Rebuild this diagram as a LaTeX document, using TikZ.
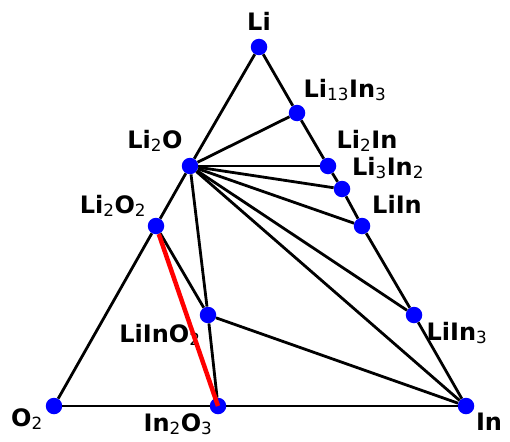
\documentclass[tikz,border=0pt]{standalone}
\usepackage{fontspec}
\setmainfont{DejaVu Sans}
\usetikzlibrary{positioning}
\newcommand{\ix}[1]{\textsubscript{\mdseries #1}}

\begin{document}
\begin{tikzpicture}[x=1pt, y=-1pt, font=\fontsize{24}{28}\selectfont\bfseries,
		phase/.style={circle, fill=blue, inner sep=0pt, minimum size=16.5pt},
		tie/.style={line width=2.8pt, black},
		lbl/.style={inner sep=0pt, anchor=base}]
				\useasboundingbox (0,0) rectangle (510,441);
				% phases
				\node[phase] (li) at (259, 47) {};
				\node[phase] (li13in3) at (297, 113) {};
				\node[phase] (li2o) at (190, 166) {};
				\node[phase] (li2in) at (328, 166) {};
				\node[phase] (li3in2) at (342, 189) {};
				\node[phase] (liin) at (362, 226) {};
				\node[phase] (li2o2) at (156, 226) {};
				\node[phase] (liino2) at (208, 315) {};
				\node[phase] (liin3) at (414, 315) {};
				\node[phase] (o2) at (54, 406) {};
				\node[phase] (in2o3) at (218, 406) {};
				\node[phase] (in) at (466, 406) {};
				
				% labels
				\node[lbl] (tli) at (259, 31) {Li};
				\node[lbl] (tli13in3) at (345, 97) {Li\ix{13}In\ix{3}};
				\node[lbl] (tli2o) at (155, 148) {Li\ix{2}O};
				\node[lbl] (tli2in) at (367, 148) {Li\ix{2}In};
				\node[lbl] (tli3in2) at (388, 175) {Li\ix{3}In\ix{2}};
				\node[lbl] (tliin) at (397, 213) {LiIn};
				\node[lbl] (tli2o2) at (113, 213) {Li\ix{2}O\ix{2}};
				\node[lbl] (tliino2) at (160, 342) {LiInO\ix{2}};
				\node[lbl] (tliin3) at (457, 340) {LiIn\ix{3}};
				\node[lbl] (to2) at (27, 426) {O\ix{2}};
				\node[lbl] (tin2o3) at (178, 431) {In\ix{2}O\ix{3}};
				\node[lbl] (tin) at (489, 430) {In};
				
				% boundary of the triangle
				\draw[tie] (li) -- (li2o) -- (li2o2) -- (o2);
				\draw[tie] (li) -- (li13in3) -- (li2in) -- (li3in2) -- (liin) -- (liin3) -- (in);
				\draw[tie] (o2) -- (in2o3) -- (in);
				
				% tie lines
				\draw[tie] (li2o) -- (li13in3);
				\draw[tie] (li2o) -- (li2in);
				\draw[tie] (li2o) -- (li3in2);
				\draw[tie] (li2o) -- (liin);
				\draw[tie] (li2o) -- (liin3);
				\draw[tie] (li2o) -- (in);
				\draw[tie] (li2o) -- (liino2);
				\draw[tie] (li2o2) -- (liino2);
				\draw[tie] (liino2) -- (in2o3);
				\draw[tie] (liino2) -- (in);
				\draw[line width=4.5pt, red] (li2o2) -- (in2o3.center);
			\end{tikzpicture}
\end{document}
